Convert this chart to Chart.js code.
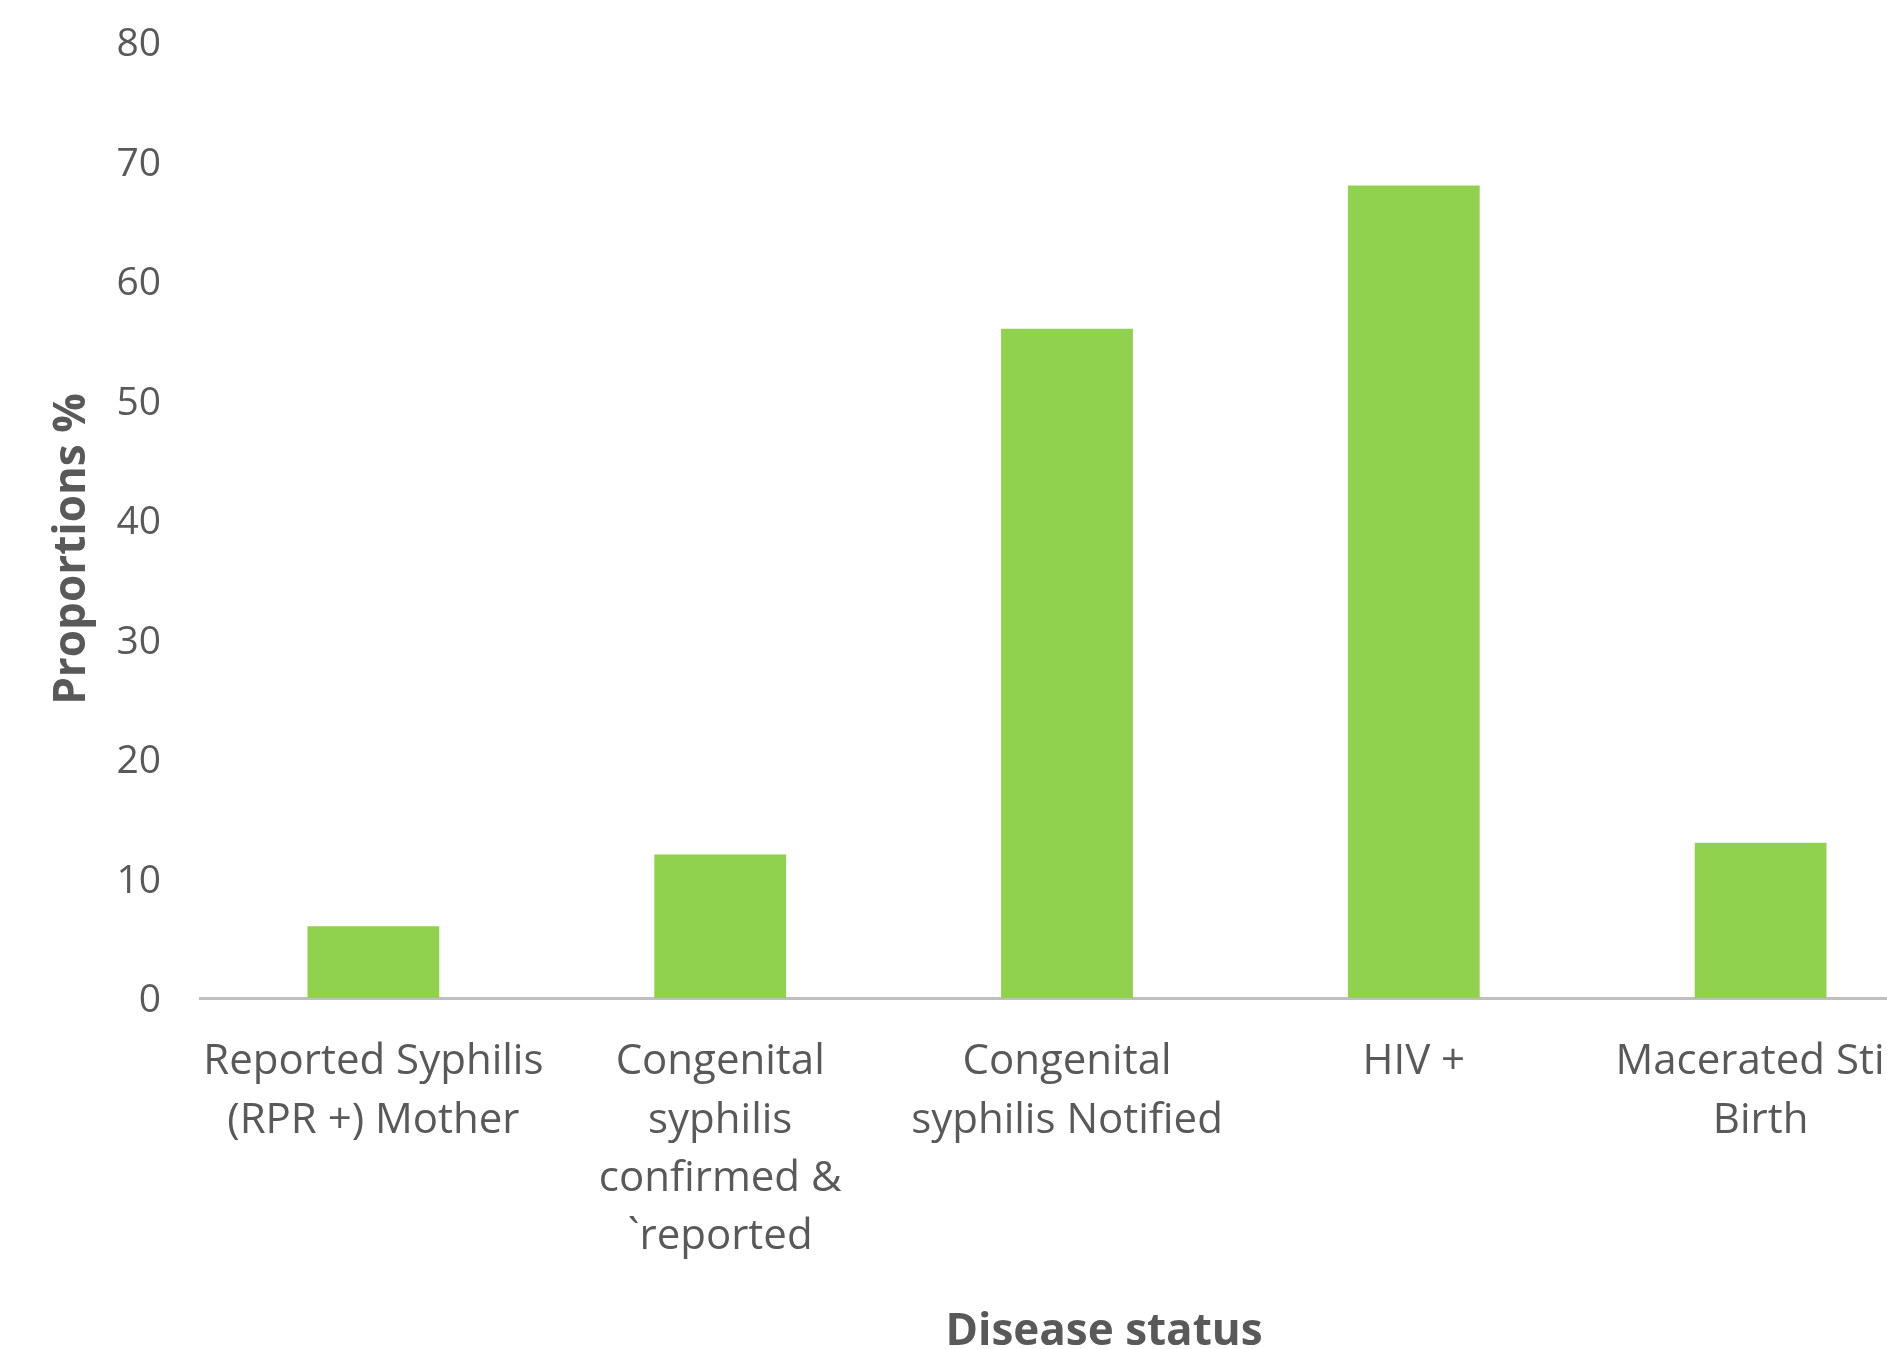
<!DOCTYPE html>
<html>
<head>
<meta charset="utf-8">
<script src="https://cdn.jsdelivr.net/npm/chart.js@4.4.1/dist/chart.umd.min.js"></script>
<style>
  html, body { margin: 0; padding: 0; background: #ffffff; overflow: hidden; }
  #wrap { width: 1960px; height: 1349px; position: relative; }
  canvas { display: block; }
</style>
</head>
<body>
<div id="wrap"><canvas id="c" width="1960" height="1349"></canvas></div>
<script>
// ---- data ----
const categories = [
  ["Reported Syphilis", "(RPR +) Mother"],
  ["Congenital", "syphilis", "confirmed &", "`reported"],
  ["Congenital", "syphilis Notified"],
  ["HIV +"],
  ["Macerated Still", "Birth"]
];
const proportions = [6, 12, 56, 68, 13];
const yTicks = [0, 10, 20, 30, 40, 50, 60, 70, 80];
const xTitle = "Disease status";
const yTitle = "Proportions %";

const textColor = '#595959';
const fontFamily = '"Open Sans", "Noto Sans", sans-serif';

const titlePlugin = {
  id: 'axisTitles',
  afterDraw(chart) {
    const ctx = chart.ctx;
    const a = chart.chartArea;
    ctx.save();
    ctx.fillStyle = textColor;
    ctx.font = 'bold 44px ' + fontFamily;
    ctx.textAlign = 'center';
    ctx.textBaseline = 'alphabetic';
    // x-axis title
    ctx.fillText(xTitle, a.left + 904, chart.height - 4);
    // y-axis title (rotated)
    ctx.translate(85, a.top + 507);
    ctx.rotate(-Math.PI / 2);
    ctx.fillText(yTitle, 0, 0);
    ctx.restore();
  }
};

new Chart(document.getElementById('c'), {
  type: 'bar',
  data: {
    labels: categories,
    datasets: [{
      data: proportions,
      backgroundColor: '#90D14E',
      borderWidth: 0,
      categoryPercentage: 1.0,
      barPercentage: 0.38
    }]
  },
  options: {
    responsive: false,
    animation: false,
    devicePixelRatio: 1,
    layout: { padding: { top: 42, right: 26, bottom: 0, left: 0 } },
    plugins: {
      legend: { display: false },
      tooltip: { enabled: false },
      title: { display: false }
    },
    scales: {
      x: {
        grid: { display: false, drawTicks: false },
        border: { display: true, color: '#BFBFBF', width: 3 },
        ticks: {
          color: textColor,
          font: { family: fontFamily, size: 42, lineHeight: 1.39 },
          padding: 35,
          maxRotation: 0,
          minRotation: 0,
          autoSkip: false
        },
        afterFit(scale) { scale.height = 351; }
      },
      y: {
        min: 0,
        max: 80,
        grid: { display: false, drawTicks: false },
        border: { display: false },
        afterBuildTicks(scale) { scale.ticks = yTicks.map(v => ({ value: v })); },
        ticks: {
          color: textColor,
          font: { family: fontFamily, size: 39 },
          padding: 39,
          labelOffset: 3
        },
        afterFit(scale) {
          scale.width = 200;
          scale.paddingTop = 0;
          scale.paddingBottom = 0;
        }
      }
    }
  },
  plugins: [titlePlugin]
});
</script>
</body>
</html>
